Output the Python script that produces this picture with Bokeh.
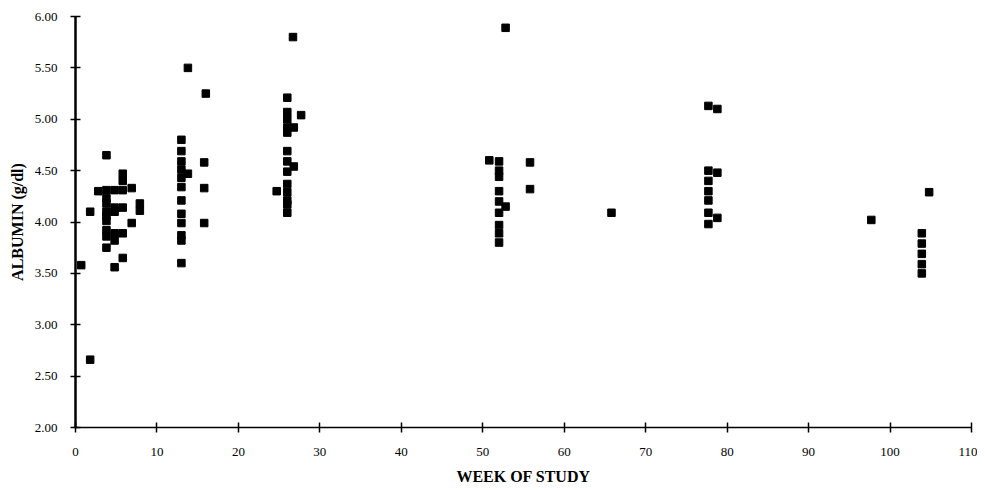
from bokeh.plotting import figure
from bokeh.models import Range1d, FixedTicker, NumeralTickFormatter
from bokeh.embed import file_html
from bokeh.resources import INLINE

weeks = [0.7, 1.8, 1.8, 2.8,
         3.8, 3.8, 3.8, 3.8, 3.8, 3.8, 3.8, 3.8, 3.8, 3.8,
         4.8, 4.8, 4.8, 4.8, 4.8, 4.8,
         5.8, 5.8, 5.8, 5.8, 5.8, 5.8,
         6.9, 6.9, 7.9, 7.9,
         13, 13, 13, 13, 13, 13, 13, 13, 13, 13, 13, 13,
         13.8, 13.8, 15.8, 15.8, 15.8, 16,
         26.7, 26, 26, 26, 27.7, 26.8, 26, 26, 26, 26, 26.8, 26, 26, 24.7, 26, 26, 26, 26,
         52.8, 50.8, 52, 52, 52, 52, 52, 52.8, 52, 52, 52, 52, 55.8, 55.8,
         65.8,
         77.7, 78.8, 77.7, 78.8, 77.7, 77.7, 77.7, 77.7, 78.8, 77.7,
         97.7, 104.8, 103.9, 103.9, 103.9, 103.9, 103.9]

albumin = [3.58, 2.66, 4.10, 4.30,
           4.65, 4.31, 4.23, 4.18, 4.10, 4.06, 4.01, 3.92, 3.86, 3.75,
           4.31, 4.14, 4.10, 3.89, 3.82, 3.56,
           4.47, 4.40, 4.31, 4.14, 3.89, 3.65,
           4.33, 3.99, 4.18, 4.11,
           4.80, 4.69, 4.59, 4.51, 4.43, 4.34, 4.21, 4.08, 3.99, 3.87, 3.82, 3.60,
           4.47, 5.50, 4.58, 4.33, 3.99, 5.25,
           5.80, 5.21, 5.07, 5.00, 5.04, 4.92, 4.92, 4.87, 4.69, 4.59, 4.54, 4.49, 4.37, 4.30, 4.29, 4.21, 4.17, 4.09,
           5.89, 4.60, 4.59, 4.50, 4.44, 4.30, 4.20, 4.15, 4.09, 3.97, 3.89, 3.80, 4.58, 4.32,
           4.09,
           5.13, 5.10, 4.50, 4.48, 4.40, 4.30, 4.21, 4.09, 4.04, 3.98,
           4.02, 4.29, 3.89, 3.79, 3.69, 3.59, 3.50]

x_ticks = [0, 10, 20, 30, 40, 50, 60, 70, 80, 90, 100, 110]
y_ticks = [2.0, 2.5, 3.0, 3.5, 4.0, 4.5, 5.0, 5.5, 6.0]

p = figure(frame_width=896, frame_height=411, output_backend="svg", toolbar_location=None,
           x_range=Range1d(0, 110), y_range=Range1d(2, 6),
           min_border_left=75, min_border_right=6, min_border_top=16, min_border_bottom=61)
p.outline_line_color = None
p.xgrid.visible = False
p.ygrid.visible = False

p.scatter(weeks, albumin, marker="square", size=7.5, color="black")

font = "Liberation Serif"
p.xaxis.ticker = FixedTicker(ticks=x_ticks)
p.yaxis.ticker = FixedTicker(ticks=y_ticks)
p.yaxis.formatter = NumeralTickFormatter(format="0.00")
for ax in (p.xaxis, p.yaxis):
    ax.major_tick_in = 5
    ax.major_tick_out = 5
    ax.minor_tick_line_color = None
    ax.axis_line_color = "black"
    ax.major_tick_line_color = "black"
    ax.major_tick_line_width = 1.5
    ax.major_label_text_font = font
    ax.major_label_text_font_size = "13px"
    ax.major_label_text_color = "black"
    ax.axis_label_text_font = font
    ax.axis_label_text_font_style = "bold"
    ax.axis_label_text_font_size = "16px"
    ax.axis_label_text_color = "black"
p.yaxis.axis_line_width = 2.5
p.xaxis.axis_line_width = 1.5
p.xaxis.axis_label = "WEEK OF STUDY"
p.yaxis.axis_label = "ALBUMIN (g/dl)"
p.xaxis.major_label_standoff = 15
p.yaxis.major_label_standoff = 13
p.xaxis.axis_label_standoff = 9
p.yaxis.axis_label_standoff = 6

open("out.html", "w").write(file_html(p, INLINE))
